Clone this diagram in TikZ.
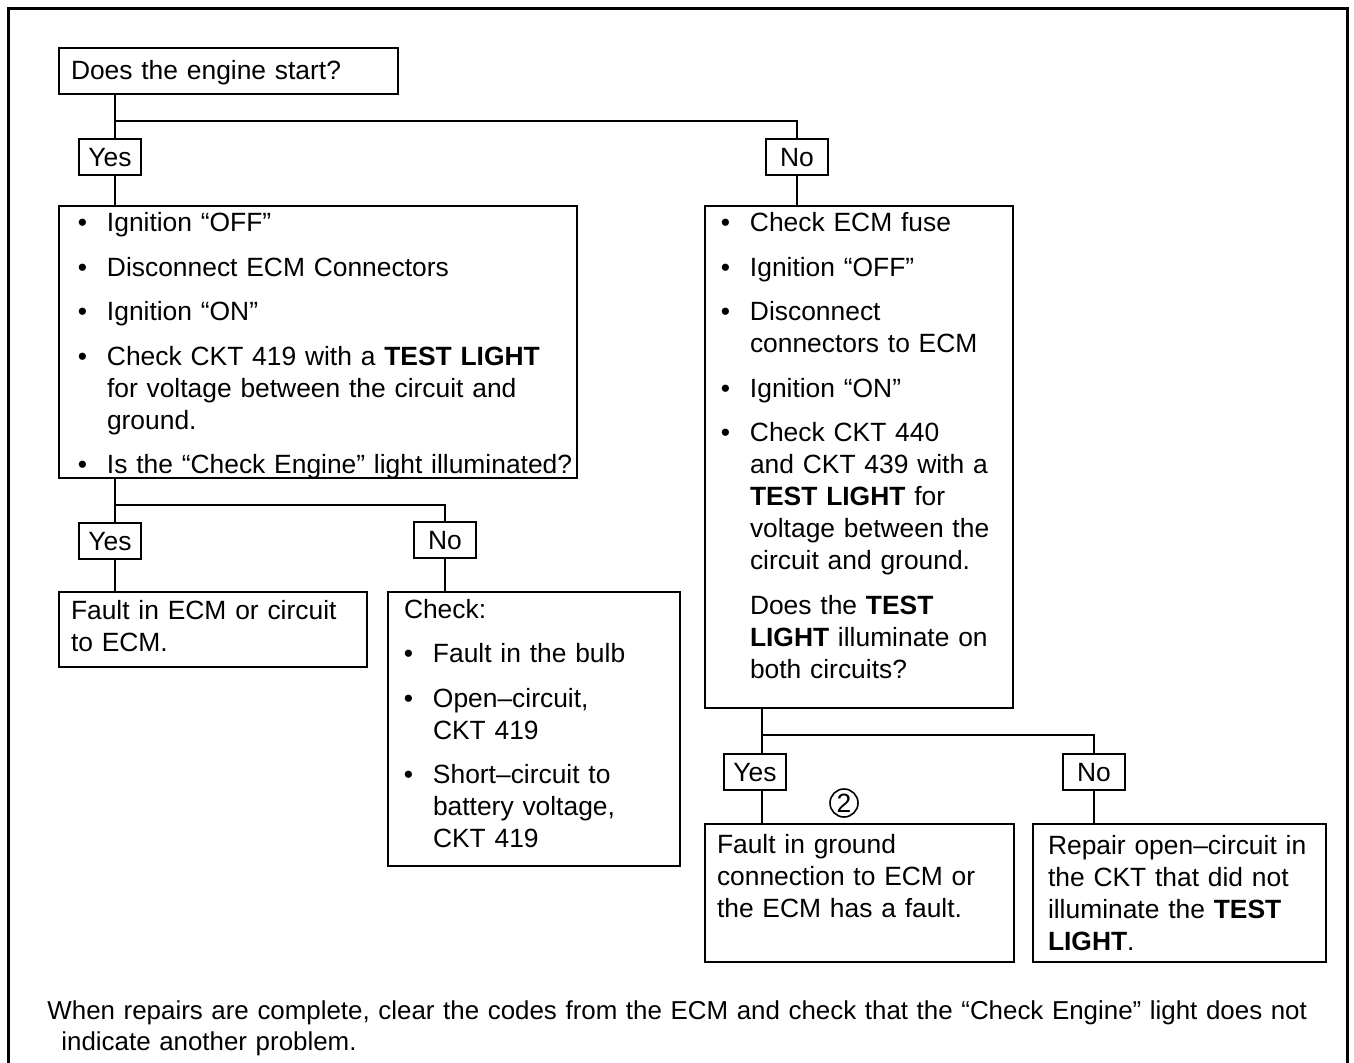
\documentclass[tikz,border=0pt]{standalone}
\usepackage{fontspec}
\setmainfont{Liberation Sans}
\usetikzlibrary{positioning}

\newcommand{\gap}{\par\vspace{6.25pt}\noindent}
\newcommand{\fbul}{\llap{\textbullet\hspace{10pt}}}
\newcommand{\bul}{\gap\fbul}

\begin{document}
\begin{tikzpicture}[
    x=0.5pt, y=-0.5pt,
    txt/.style={font=\fontsize{13.2pt}{16pt}\selectfont},
    box/.style={txt, draw, line width=1pt, fill=white, anchor=north west, inner xsep=6pt, inner ysep=0pt, align=left},
    lbl/.style={txt, draw, line width=1pt, fill=white, minimum width=31pt, minimum height=18pt, inner sep=0pt, text height=9.6pt, text depth=0pt},
    conn/.style={line width=1pt},
]
\useasboundingbox (0,0) rectangle (1354,1063);

% Frame
\draw[line width=1.5pt] (8,1075) -- (8,9) -- (1347,9) -- (1347,1075);

% Boxes
\node[box, text width=157.5pt, text height=16pt, text depth=7pt] (start) at (58,47) {Does the engine start?};
\node[box, inner xsep=3pt, text width=253pt, text height=13pt, text depth=123pt] (chkA) at (58,205)
  {\leftskip=21pt\fbul Ignition ``OFF''\bul Disconnect ECM Connectors\bul Ignition ``ON''\bul Check CKT 419 with a \textbf{TEST LIGHT}\newline for voltage between the circuit and\newline ground.\bul \mbox{Is the ``Check Engine'' light illuminated?}\par};
\node[box, inner xsep=3pt, text width=148pt, text height=13pt, text depth=238pt] (chkB) at (704,205)
  {\leftskip=19.5pt\fbul Check ECM fuse\bul Ignition ``OFF''\bul Disconnect\newline connectors to ECM\bul Ignition ``ON''\bul Check CKT 440\newline and CKT 439 with a\newline \textbf{TEST LIGHT} for\newline voltage between the\newline circuit and ground.\gap Does the \textbf{TEST}\newline \textbf{LIGHT} illuminate on\newline both circuits?\par};
\node[box, text width=142pt, text height=13.5pt, text depth=24pt] (fltA) at (58,591) {Fault in ECM or circuit\newline to ECM.};
\node[box, inner xsep=3pt, text width=140pt, text height=13pt, text depth=124pt] (chkC) at (387,591)
  {\hspace*{5pt}Check:\par\leftskip=19.5pt\bul Fault in the bulb\bul Open–circuit,\newline CKT 419\bul Short–circuit to\newline battery voltage,\newline CKT 419\par};
\node[box, text width=142.5pt, text height=14.5pt, text depth=54.5pt] (fltB) at (704,823) {Fault in ground\newline connection to ECM or\newline the ECM has a fault.};
\node[box, inner xsep=7.5pt, text width=131.5pt, text height=15pt, text depth=54pt] (rep) at (1032,823) {Repair open–circuit in\newline the CKT that did not\newline illuminate the \textbf{TEST}\newline \textbf{LIGHT}.};

% Yes/No labels
\node[lbl, xshift=-2.5pt] (yesA) at (115,157) {Yes};
\node[lbl] (noA) at (797,157) {No};
\node[lbl, xshift=-2.5pt] (yesB) at (115,541) {Yes};
\node[lbl] (noB) at (445,540) {No};
\node[lbl, xshift=-3.5pt] (yesC) at (762,772) {Yes};
\node[lbl] (noC) at (1094,772) {No};

\node[txt, draw, circle, line width=0.8pt, minimum size=14pt, inner sep=0pt] (two) at (844,803) {2};

% Connectors
\coordinate (jA) at (115,121);
\draw[conn] (start.south -| jA) -- (yesA.north -| jA);
\draw[conn] (jA) -| (noA.north);
\draw[conn] (yesA.south -| jA) -- (chkA.north -| jA);
\draw[conn] (noA.south) -- (chkB.north -| noA.south);

\coordinate (jB) at (115,505);
\draw[conn] (chkA.south -| jB) -- (yesB.north -| jB);
\draw[conn] (jB) -| (noB.north);
\draw[conn] (yesB.south -| jB) -- (fltA.north -| jB);
\draw[conn] (noB.south) -- (chkC.north -| noB.south);

\coordinate (jC) at (762,735);
\draw[conn] (chkB.south -| jC) -- (yesC.north -| jC);
\draw[conn] (jC) -| (noC.north);
\draw[conn] (yesC.south -| jC) -- (fltB.north -| jC);
\draw[conn] (noC.south) -- (rep.north -| noC.south);

% Footer
\node[txt, font=\fontsize{12.95pt}{15.5pt}\selectfont, anchor=north west, inner sep=0pt, text width=650pt, align=left, text height=11pt] (note) at (47,997)
  {\hangindent=7pt\hangafter=1 When repairs are complete, clear the codes from the ECM and check that the ``Check Engine'' light does not\newline indicate another problem.\par};

\end{tikzpicture}
\end{document}
